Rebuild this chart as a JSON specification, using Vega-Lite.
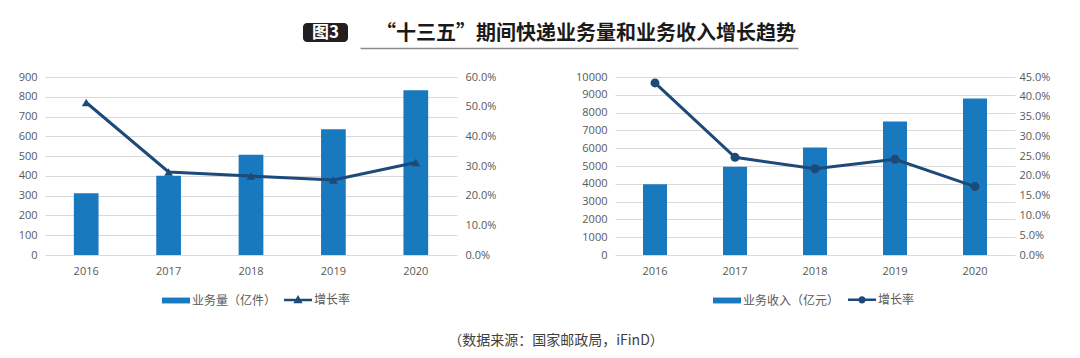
{
  "$schema": "https://vega.github.io/schema/vega-lite/v6.json",
  "background": "white",
  "padding": {"left": 18, "top": 23, "right": 5, "bottom": 5},
  "bounds": "flush",
  "spacing": 54,
  "config": {
    "view": {"stroke": null},
    "axis": {"labelFont": "Open Sans", "labelFontSize": 11, "labelColor": "#595959", "domain": false, "ticks": false, "title": null},
    "legend": {"labelFont": "Noto Sans CJK SC", "labelFontSize": 12, "labelColor": "#595959", "padding": 0}
  },
  "title": {
    "text": "（数据来源：国家邮政局，iFinD）",
    "orient": "bottom",
    "anchor": "middle",
    "offset": 26,
    "dx": 22,
    "font": "Noto Sans CJK SC",
    "fontSize": 14,
    "fontWeight": "normal",
    "color": "#404040"
  },
  "vconcat": [
    {
      "bounds": "flush",
      "spacing": 12,
      "hconcat": [
        {
          "width": 246,
          "height": 19,
          "data": {"values": [{"t": ""}]},
          "mark": "text",
          "encoding": {"text": {"field": "t"}}
        },
        {
          "width": 45,
          "height": 19,
          "data": {"values": [{"t": "图3"}]},
          "layer": [
            {"mark": {"type": "rect", "color": "#231f20", "cornerRadius": 4}, "encoding": {}},
            {"mark": {"type": "text", "color": "white", "font": "Noto Sans CJK SC", "fontSize": 17, "fontWeight": "bold", "baseline": "middle"}, "encoding": {"text": {"field": "t"}}}
          ]
        },
        {
          "width": 438,
          "height": 19,
          "data": {"values": [{"t": "“十三五”期间快递业务量和业务收入增长趋势"}]},
          "mark": {"type": "text", "font": "Noto Sans CJK SC", "fontSize": 20, "fontWeight": "bold", "color": "#1a1a1a", "baseline": "middle", "dx": 7, "dy": 1},
          "encoding": {
            "x": {"field": "t", "type": "nominal", "axis": {"labels": false, "ticks": false, "domain": true, "domainColor": "#8c8c8c", "domainWidth": 1.5, "offset": 6, "title": null}},
            "text": {"field": "t"}
          }
        }
      ]
    },
    {
      "bounds": "flush",
      "spacing": 158,
      "resolve": {"scale": {"color": "independent"}, "legend": {"color": "independent"}},
      "hconcat": [
        {
          "width": 412,
          "height": 178,
          "data": {"values": [
            {"year": "2016", "volume": 312.8, "growth": 0.514},
            {"year": "2017", "volume": 400.6, "growth": 0.280},
            {"year": "2018", "volume": 507.1, "growth": 0.266},
            {"year": "2019", "volume": 635.2, "growth": 0.253},
            {"year": "2020", "volume": 833.6, "growth": 0.312}
          ]},
          "encoding": {
            "x": {"field": "year", "type": "nominal", "scale": {"paddingInner": 0.7, "paddingOuter": 0.35}, "axis": {"labelAngle": 0, "labelPadding": 10, "grid": false}}
          },
          "layer": [
            {
              "mark": {"type": "bar"},
              "encoding": {
                "y": {"field": "volume", "type": "quantitative", "scale": {"domain": [0, 900]}, "axis": {"values": [0, 100, 200, 300, 400, 500, 600, 700, 800, 900], "format": "d", "grid": true, "gridColor": "#d9d9d9", "labelPadding": 8}},
                "color": {
                  "datum": "业务量（亿件）", "type": "nominal",
                  "scale": {"domain": ["业务量（亿件）", "增长率"], "range": ["#1879bf", "#1d4a78"]},
                  "legend": {
                    "orient": "none", "legendX": 125, "legendY": 216.5, "direction": "horizontal", "title": null,
                    "symbolSize": 784, "labelOffset": 10, "columnPadding": 2,
                    "encode": {"symbols": {"update": {
                      "shape": {"signal": "datum.value === '增长率' ? 'M-1,0H1M-0.18,0.16L0,-0.17L0.18,0.16Z' : 'M-1,-0.21H1V0.21H-1Z'"},
                      "fill": {"signal": "datum.value === '增长率' ? '#1d4a78' : '#1879bf'"},
                      "stroke": {"signal": "datum.value === '增长率' ? '#1d4a78' : '#1879bf'"},
                      "strokeWidth": {"signal": "datum.value === '增长率' ? 2.5 : 0"},
                      "opacity": {"value": 1}
                    }}}
                  }
                }
              }
            },
            {
              "mark": {"type": "line", "strokeWidth": 3, "point": {"shape": "triangle-up", "filled": true, "size": 75}},
              "encoding": {
                "y": {"field": "growth", "type": "quantitative", "scale": {"domain": [0, 0.6]}, "axis": {"orient": "right", "values": [0, 0.1, 0.2, 0.3, 0.4, 0.5, 0.6], "format": ".1%", "grid": false, "labelPadding": 8}},
                "color": {"datum": "增长率", "type": "nominal"}
              }
            }
          ],
          "resolve": {"scale": {"y": "independent"}}
        },
        {
          "width": 400,
          "height": 178,
          "data": {"values": [
            {"year": "2016", "revenue": 3974.4, "growth": 0.435},
            {"year": "2017", "revenue": 4957.1, "growth": 0.247},
            {"year": "2018", "revenue": 6038.4, "growth": 0.218},
            {"year": "2019", "revenue": 7497.8, "growth": 0.242},
            {"year": "2020", "revenue": 8795.4, "growth": 0.173}
          ]},
          "encoding": {
            "x": {"field": "year", "type": "nominal", "scale": {"paddingInner": 0.7, "paddingOuter": 0.35}, "axis": {"labelAngle": 0, "labelPadding": 10, "grid": false}}
          },
          "layer": [
            {
              "mark": {"type": "bar"},
              "encoding": {
                "y": {"field": "revenue", "type": "quantitative", "scale": {"domain": [0, 10000]}, "axis": {"values": [0, 1000, 2000, 3000, 4000, 5000, 6000, 7000, 8000, 9000, 10000], "format": "d", "grid": true, "gridColor": "#d9d9d9", "labelPadding": 8}},
                "color": {
                  "datum": "业务收入（亿元）", "type": "nominal",
                  "scale": {"domain": ["业务收入（亿元）", "增长率"], "range": ["#1879bf", "#1d4a78"]},
                  "legend": {
                    "orient": "none", "legendX": 106, "legendY": 216.5, "direction": "horizontal", "title": null,
                    "symbolSize": 784, "labelOffset": 10, "columnPadding": 3,
                    "encode": {"symbols": {"update": {
                      "shape": {"signal": "datum.value === '增长率' ? 'M-1,0H1M0.17,0A0.17,0.17 0 1,1 -0.17,0A0.17,0.17 0 1,1 0.17,0Z' : 'M-1,-0.21H1V0.21H-1Z'"},
                      "fill": {"signal": "datum.value === '增长率' ? '#1d4a78' : '#1879bf'"},
                      "stroke": {"signal": "datum.value === '增长率' ? '#1d4a78' : '#1879bf'"},
                      "strokeWidth": {"signal": "datum.value === '增长率' ? 2.5 : 0"},
                      "opacity": {"value": 1}
                    }}}
                  }
                }
              }
            },
            {
              "mark": {"type": "line", "strokeWidth": 3, "point": {"shape": "circle", "filled": true, "size": 80}},
              "encoding": {
                "y": {"field": "growth", "type": "quantitative", "scale": {"domain": [0, 0.45]}, "axis": {"orient": "right", "values": [0, 0.05, 0.1, 0.15, 0.2, 0.25, 0.3, 0.35, 0.4, 0.45], "format": ".1%", "grid": false, "labelPadding": 4}},
                "color": {"datum": "增长率", "type": "nominal"}
              }
            }
          ],
          "resolve": {"scale": {"y": "independent"}}
        }
      ]
    }
  ]
}
